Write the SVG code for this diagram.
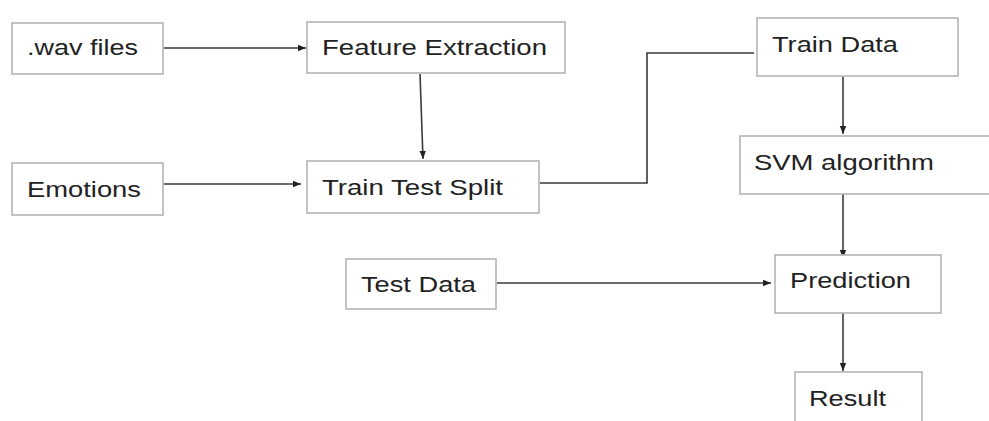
<svg xmlns="http://www.w3.org/2000/svg" width="989" height="421" viewBox="0 0 989 421">
<style>
.box{fill:#fff;stroke:#b4b4b4;stroke-width:1.6}
.lbl{font-family:"Liberation Sans",Arial,sans-serif;font-size:22px;fill:#222}
.con{fill:none;stroke:#3a3a3a;stroke-width:1.6}
</style>
<defs>
<marker id="ah" markerUnits="userSpaceOnUse" markerWidth="9" markerHeight="8" refX="8" refY="4" orient="auto">
<path d="M0,0.8 L8,4 L0,7.2 Z" fill="#222"/>
</marker>
</defs>
<rect width="989" height="421" fill="#fff"/>
<g id="connectors">
<line class="con" x1="164" y1="48" x2="306" y2="48" marker-end="url(#ah)"/>
<line class="con" x1="164" y1="184" x2="301" y2="184" marker-end="url(#ah)"/>
<line class="con" x1="420" y1="74" x2="423" y2="159" marker-end="url(#ah)"/>
<polyline class="con" points="540,183 647,183 647,53 754,53"/>
<line class="con" x1="843" y1="77" x2="843" y2="134" marker-end="url(#ah)"/>
<line class="con" x1="843" y1="194" x2="843" y2="258" marker-end="url(#ah)"/>
<line class="con" x1="497" y1="283" x2="771" y2="283" marker-end="url(#ah)"/>
<line class="con" x1="843" y1="313" x2="843" y2="371" marker-end="url(#ah)"/>
</g>
<g id="wav">
<rect class="box" x="12" y="23" width="151" height="51"/>
<text class="lbl" x="27" y="55" textLength="111" lengthAdjust="spacingAndGlyphs">.wav files</text>
</g>
<g id="feature">
<rect class="box" x="307" y="22" width="258" height="51"/>
<text class="lbl" x="322" y="55" textLength="225" lengthAdjust="spacingAndGlyphs">Feature Extraction</text>
</g>
<g id="emotions">
<rect class="box" x="12" y="163" width="151" height="52"/>
<text class="lbl" x="27" y="197" textLength="114" lengthAdjust="spacingAndGlyphs">Emotions</text>
</g>
<g id="split">
<rect class="box" x="307" y="161" width="232" height="52"/>
<text class="lbl" x="322" y="195" textLength="181" lengthAdjust="spacingAndGlyphs">Train Test Split</text>
</g>
<g id="traindata">
<rect class="box" x="757" y="18" width="201" height="58"/>
<text class="lbl" x="772" y="52" textLength="126" lengthAdjust="spacingAndGlyphs">Train Data</text>
</g>
<g id="svm">
<rect class="box" x="740" y="136" width="260" height="58"/>
<text class="lbl" x="754" y="170" textLength="180" lengthAdjust="spacingAndGlyphs">SVM algorithm</text>
</g>
<g id="testdata">
<rect class="box" x="346" y="259" width="150" height="50"/>
<text class="lbl" x="361" y="292" textLength="115" lengthAdjust="spacingAndGlyphs">Test Data</text>
</g>
<g id="prediction">
<rect class="box" x="775" y="255" width="166" height="58"/>
<text class="lbl" x="790" y="288" textLength="121" lengthAdjust="spacingAndGlyphs">Prediction</text>
</g>
<g id="result">
<rect class="box" x="795" y="372" width="127" height="60"/>
<text class="lbl" x="809" y="406" textLength="77" lengthAdjust="spacingAndGlyphs">Result</text>
</g>
</svg>
